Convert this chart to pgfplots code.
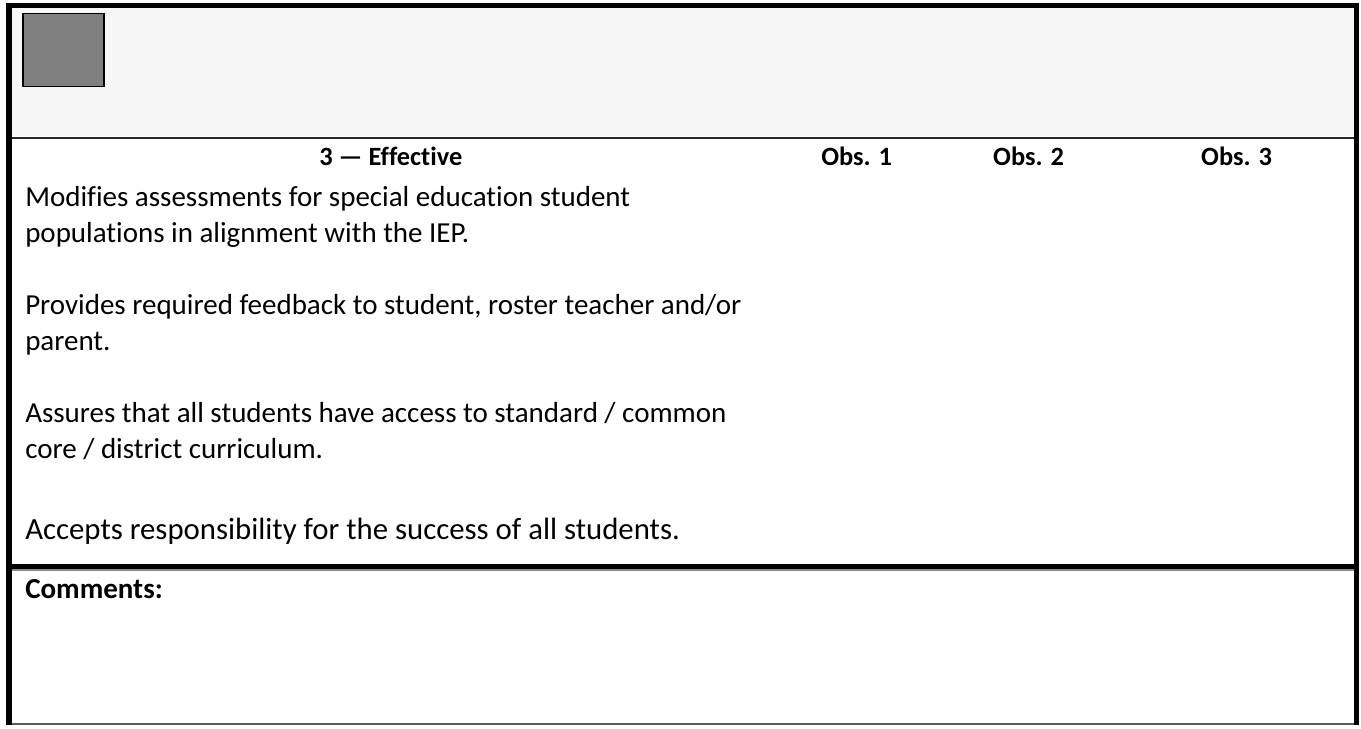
\documentclass[border=0pt]{standalone}
\usepackage{pgfplots}
\pgfplotsset{compat=1.18}
\usepackage{fontspec}
\setmainfont{Carlito}[Ligatures={NoCommon}]
\definecolor{hdrbg}{HTML}{F7F7F7}
\definecolor{sq}{HTML}{808080}
\newcommand{\bodyf}{\fontsize{21.75pt}{26pt}\selectfont}
\newcommand{\bigf}{\fontsize{23.1pt}{27pt}\selectfont}
\newcommand{\hdrf}{\fontsize{19.8pt}{24pt}\selectfont\bfseries}
\begin{document}
\begin{tikzpicture}
\begin{axis}[scale only axis, width=1020.75pt, height=543.75pt,
  xmin=0, xmax=1361, ymin=0, ymax=725, y dir=reverse,
  hide axis, clip=false]
\addplot[draw=none] coordinates {(0,0) (1361,725)};
% header background
\addplot[draw=none, fill=hdrbg] coordinates {(12,7) (1354,7) (1354,136) (12,136)};
% grey square
\addplot[draw=black, line width=1.2pt, fill=sq] coordinates {(23,13) (104,13) (104,86) (23,86) (23,13)};
% rules
\addplot[color=black!85, line width=1.9pt] coordinates {(12,137.5) (1354,137.5)};
\addplot[black!45, line width=0.9pt] coordinates {(12,569.8) (1354,569.8)};
\addplot[black, line width=3.9pt] coordinates {(12,566.5) (1354,566.5)};
\addplot[black!65, line width=1.2pt] coordinates {(12,724) (1356,724)};
\addplot[black, line width=3.75pt] coordinates {(6,5) (1359,5)};
\addplot[black, line width=4.5pt] coordinates {(9,2.5) (9,725)};
\addplot[black, line width=3.75pt] coordinates {(1356.5,2.5) (1356.5,725)};
% header row
\node[anchor=base, inner sep=0pt] at (axis cs:391,165) {\hdrf 3 — Effective};
\node[anchor=base, inner sep=0pt] at (axis cs:857,165) {\hdrf Obs. 1};
\node[anchor=base, inner sep=0pt] at (axis cs:1029,165) {\hdrf Obs. 2};
\node[anchor=base, inner sep=0pt] at (axis cs:1237,165) {\hdrf Obs. 3};
% body text
\node[anchor=base west, inner sep=0pt] at (axis cs:25,206) {\bodyf Modifies assessments for special education student};
\node[anchor=base west, inner sep=0pt] at (axis cs:25,242) {\bodyf populations in alignment with the IEP.};
\node[anchor=base west, inner sep=0pt] at (axis cs:25,314) {\bodyf Provides required feedback to student, roster teacher and/or};
\node[anchor=base west, inner sep=0pt] at (axis cs:25,350) {\bodyf parent.};
\node[anchor=base west, inner sep=0pt] at (axis cs:25,422) {\bodyf Assures that all students have access to standard / common};
\node[anchor=base west, inner sep=0pt] at (axis cs:25,458) {\bodyf core / district curriculum.};
\node[anchor=base west, inner sep=0pt] at (axis cs:25,539) {\bigf Accepts responsibility for the success of all students.};
\node[anchor=base west, inner sep=0pt] at (axis cs:25,598) {\bodyf\bfseries Comments:};
\end{axis}
\end{tikzpicture}
\end{document}
